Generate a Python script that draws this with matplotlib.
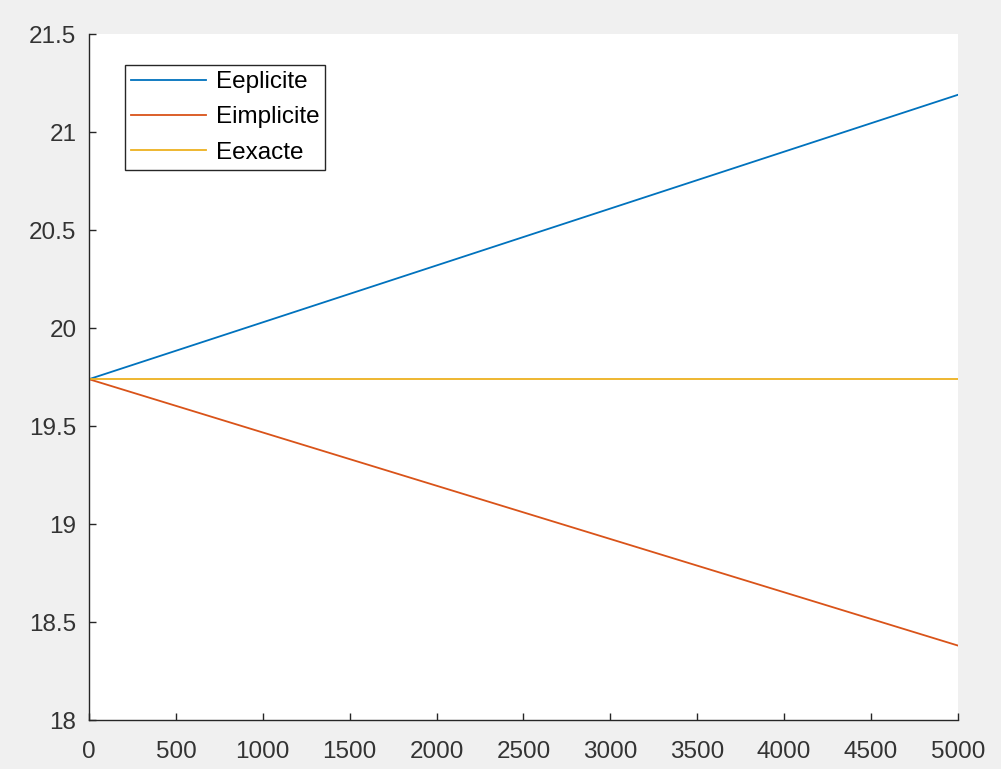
import matplotlib.pyplot as plt

# energy over time for the two schemes and the exact value
t = [0, 5000]
E_explicite = [19.739, 21.19]
E_implicite = [19.739, 18.38]
E_exacte = [19.739, 19.739]

plt.rcParams['font.family'] = ['Liberation Sans', 'DejaVu Sans']
plt.rcParams['font.size'] = 17.5

fig = plt.figure(figsize=(10.01, 7.69), dpi=100, facecolor='#f0f0f0')
ax = fig.add_axes([0.0889, 0.0637, 0.868, 0.892])

ax.plot(t, E_explicite, color='#0072BD', lw=1.3, label='Eeplicite')
ax.plot(t, E_implicite, color='#D95319', lw=1.3, label='Eimplicite')
ax.plot(t, E_exacte, color='#EDB120', lw=1.3, label='Eexacte')

ax.set_xlim(0, 5000)
ax.set_ylim(18, 21.5)
ax.set_xticks(range(0, 5001, 500))
ax.set_yticks([18, 18.5, 19, 19.5, 20, 20.5, 21, 21.5])
ax.set_yticklabels(['18', '18.5', '19', '19.5', '20', '20.5', '21', '21.5'])

for side in ['top', 'right']:
    ax.spines[side].set_visible(False)
for side in ['left', 'bottom']:
    ax.spines[side].set_color('#262626')
    ax.spines[side].set_linewidth(1.0)
ax.tick_params(direction='in', length=5, width=1, colors='#262626',
               labelcolor='#333333')
ax.tick_params(axis='y', pad=9)
ax.tick_params(axis='x', pad=15)

leg = ax.legend(loc='upper left', bbox_to_anchor=(0.041, 0.955), borderaxespad=0,
                fancybox=False, framealpha=1, edgecolor='#262626',
                handlelength=3.1, handletextpad=0.4, labelspacing=0.55,
                borderpad=0.25)
leg.get_frame().set_linewidth(1.0)

fig.savefig('out.png', dpi=100, facecolor=fig.get_facecolor())
